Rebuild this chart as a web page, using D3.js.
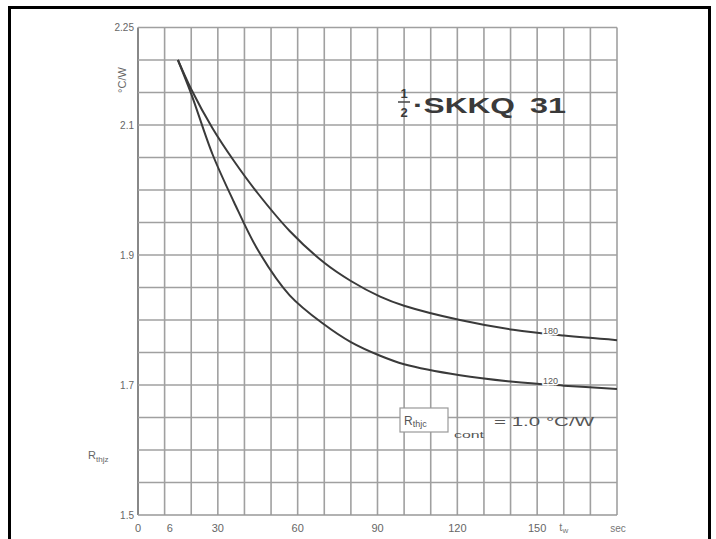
<!DOCTYPE html>
<html>
<head>
<meta charset="utf-8">
<script src="https://cdn.jsdelivr.net/npm/d3@7"></script>
<style>
  body { margin: 0; background: #fff; }
  svg { display: block; font-family: "Liberation Sans", Arial, sans-serif; }
</style>
</head>
<body>
<script>
// pulse width t_w (s) and transient thermal impedance (°C/W)
var tw = [15, 20, 28, 36, 45, 57, 70, 80, 91, 100, 121, 141, 160, 180];
var rthUpper = [2.20, 2.155, 2.095, 2.045, 1.995, 1.937, 1.888, 1.860, 1.836, 1.822, 1.800, 1.785, 1.776, 1.769];
var rthLower = [2.20, 2.148, 2.055, 1.982, 1.908, 1.838, 1.793, 1.766, 1.745, 1.732, 1.715, 1.705, 1.699, 1.694];
var curveLabels = ["180", "120"];

var yTicks = [1.5, 1.7, 1.9, 2.1, 2.25];
var yTickText = ["1.5", "1.7", "1.9", "2.1", "2.25"];
var xTicks = [0, 12, 30, 60, 90, 120, 150];
var xTickText = ["0", "6", "30", "60", "90", "120", "150"];

var dim = { width: 716, height: 539, left: 138, right: 617, top: 27.5, bottom: 515 };

var x = d3.scaleLinear().domain([0, 180]).range([dim.left, dim.right]);
var y = d3.scaleLinear().domain([1.5, 2.25]).range([dim.bottom, dim.top]);

var svg = d3.select("body").append("svg")
    .attr("width", dim.width)
    .attr("height", dim.height);

// outer frame (open at the bottom)
svg.append("path")
    .attr("d", "M9.5,539 V7.5 H709.5 V539")
    .attr("fill", "none")
    .attr("stroke", "#000")
    .attr("stroke-width", 3);

// grid
var grid = svg.append("g").attr("class", "grid");
grid.selectAll("line.v").data(d3.range(0, 181, 10))
    .enter().append("line")
    .attr("class", "v")
    .attr("x1", function(d) { return x(d); })
    .attr("x2", function(d) { return x(d); })
    .attr("y1", y(1.5))
    .attr("y2", y(2.25))
    .attr("stroke", function(d) { return d === 0 ? "#888" : "#a0a0a0"; })
    .attr("stroke-width", function(d) { return d === 0 ? 2 : 1.6; });

grid.selectAll("line.h").data(d3.range(0, 16).map(function(i) { return 1.5 + i * 0.05; }))
    .enter().append("line")
    .attr("class", "h")
    .attr("x1", x(0))
    .attr("x2", x(180))
    .attr("y1", function(d) { return y(d); })
    .attr("y2", function(d) { return y(d); })
    .attr("stroke", function(d, i) { return i === 0 ? "#999" : "#a0a0a0"; })
    .attr("stroke-width", 1.6);

// tick labels
svg.append("g").selectAll("text").data(yTicks)
    .enter().append("text")
    .attr("x", dim.left - 4)
    .attr("y", function(d) { return y(d); })
    .attr("dy", "0.35em")
    .attr("text-anchor", "end")
    .attr("font-size", 10)
    .attr("fill", "#666")
    .text(function(d, i) { return yTickText[i]; });

svg.append("g").selectAll("text").data(xTicks)
    .enter().append("text")
    .attr("x", function(d) { return x(d); })
    .attr("y", dim.bottom + 17)
    .attr("text-anchor", "middle")
    .attr("font-size", 11)
    .attr("fill", "#666")
    .text(function(d, i) { return xTickText[i]; });

// axis titles
var twLabel = svg.append("text")
    .attr("x", x(160))
    .attr("y", dim.bottom + 16)
    .attr("text-anchor", "middle")
    .attr("font-size", 11)
    .attr("fill", "#777");
twLabel.append("tspan").text("t");
twLabel.append("tspan").attr("font-size", 8).attr("dy", 2).text("w");

svg.append("text")
    .attr("x", x(180) + 1)
    .attr("y", dim.bottom + 17)
    .attr("text-anchor", "middle")
    .attr("font-size", 10)
    .attr("fill", "#777")
    .text("sec");

svg.append("text")
    .attr("transform", "translate(126,80) rotate(-90)")
    .attr("text-anchor", "middle")
    .attr("font-size", 11)
    .attr("fill", "#666")
    .text("°C/W");

var rLabel = svg.append("text")
    .attr("x", 88)
    .attr("y", 459)
    .attr("font-size", 11)
    .attr("fill", "#666");
rLabel.append("tspan").text("R");
rLabel.append("tspan").attr("font-size", 8).attr("dy", 3).text("thjz");

// curves
var line = d3.line()
    .x(function(d) { return x(d[0]); })
    .y(function(d) { return y(d[1]); })
    .curve(d3.curveCatmullRom.alpha(0.5));

[rthUpper, rthLower].forEach(function(series) {
    svg.append("path")
        .datum(tw.map(function(t, i) { return [t, series[i]]; }))
        .attr("d", line)
        .attr("fill", "none")
        .attr("stroke", "#3a3a3a")
        .attr("stroke-width", 2);
});

// curve labels sitting on the lines
[[rthUpper, 0], [rthLower, 1]].forEach(function(p) {
    var v = p[0][tw.indexOf(160)];
    svg.append("text")
        .attr("x", x(155))
        .attr("y", y(v) - 2)
        .attr("text-anchor", "middle")
        .attr("font-size", 9)
        .attr("fill", "#555")
        .attr("stroke", "#fff")
        .attr("stroke-width", 3)
        .attr("paint-order", "stroke")
        .text(curveLabels[p[1]]);
});

// title
var title = svg.append("g").attr("fill", "#3a3a3a");
title.append("text").attr("x", 404).attr("y", 98).attr("text-anchor", "middle")
    .attr("font-size", 13).attr("font-weight", "bold").text("1");
title.append("line").attr("x1", 398).attr("x2", 410).attr("y1", 102).attr("y2", 102)
    .attr("stroke", "#444").attr("stroke-width", 1.5);
title.append("text").attr("x", 404).attr("y", 117).attr("text-anchor", "middle")
    .attr("font-size", 13).attr("font-weight", "bold").text("2");
title.append("text").attr("x", 413).attr("y", 113)
    .attr("font-size", 22).attr("font-weight", "bold")
    .attr("textLength", 102).attr("lengthAdjust", "spacingAndGlyphs")
    .text("·SKKQ");
title.append("text").attr("x", 530).attr("y", 113)
    .attr("font-size", 22).attr("font-weight", "bold")
    .attr("textLength", 36).attr("lengthAdjust", "spacingAndGlyphs")
    .text("31");

// annotation (R_thjc)_cont = 1.0 °C/W
var ann = svg.append("g").attr("fill", "#555");
ann.append("rect")
    .attr("x", 400).attr("y", 408).attr("width", 48).attr("height", 24)
    .attr("fill", "#fff").attr("stroke", "#999").attr("stroke-width", 1.2);
var annT = ann.append("text").attr("x", 404).attr("y", 425).attr("font-size", 12);
annT.append("tspan").text("R");
annT.append("tspan").attr("font-size", 9).attr("dy", 2).text("thjc");
ann.append("text").attr("x", 454).attr("y", 438).attr("font-size", 9)
    .attr("textLength", 30).attr("lengthAdjust", "spacingAndGlyphs").text("cont");
ann.append("text").attr("x", 494).attr("y", 426).attr("font-size", 13)
    .attr("textLength", 100).attr("lengthAdjust", "spacingAndGlyphs")
    .text("= 1.0 °C/W");
</script>
</body>
</html>
